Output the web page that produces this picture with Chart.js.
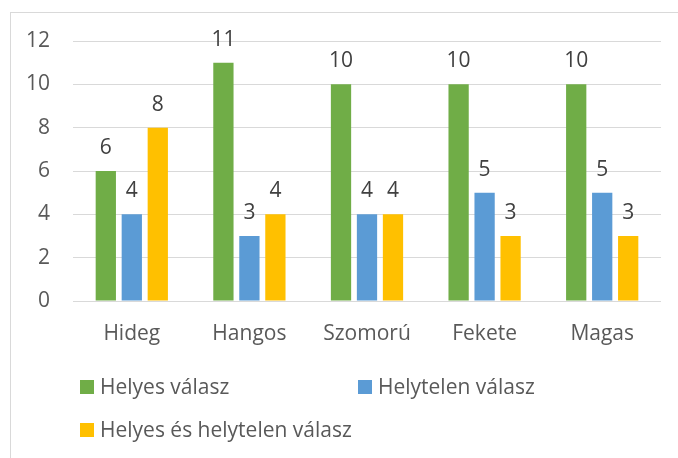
<!DOCTYPE html>
<html>
<head>
<meta charset="utf-8">
<script src="https://cdn.jsdelivr.net/npm/chart.js@4"></script>
<style>
  html, body { margin: 0; padding: 0; background: #fff; }
  canvas { display: block; }
</style>
</head>
<body>
<canvas id="barChart" width="678" height="458"></canvas>
<script>
var categories = ['Hideg', 'Hangos', 'Szomorú', 'Fekete', 'Magas'];
var helyes = [6, 11, 10, 10, 10];
var helytelen = [4, 3, 4, 5, 5];
var vegyes = [8, 4, 4, 3, 3];
var yTicks = [0, 2, 4, 6, 8, 10, 12];

var FONT = '"Open Sans", sans-serif';

// frame round the chart, like the Excel chart area border
var framePlugin = {
    id: 'frame',
    beforeDraw: function (chart) {
        var c = chart.ctx;
        c.save();
        c.fillStyle = '#ffffff';
        c.fillRect(0, 0, chart.width, chart.height);
        c.strokeStyle = '#d9d9d9';
        c.lineWidth = 1;
        c.strokeRect(10.5, 12.5, 720, 500);
        c.restore();
    }
};

// value labels on top of the bars
var valueLabels = {
    id: 'valueLabels',
    afterDatasetsDraw: function (chart) {
        var c = chart.ctx;
        c.save();
        c.font = '21px ' + FONT;
        c.fillStyle = '#404040';
        c.textAlign = 'center';
        c.textBaseline = 'alphabetic';
        chart.data.datasets.forEach(function (ds, i) {
            chart.getDatasetMeta(i).data.forEach(function (bar, j) {
                c.fillText(ds.data[j], bar.x, bar.y - 17);
            });
        });
        c.restore();
    }
};

// two-column legend under the axis
var gridLegend = {
    id: 'gridLegend',
    afterDraw: function (chart) {
        var c = chart.ctx;
        var spots = [[80, 387], [358, 387], [80, 430]];
        c.save();
        c.font = '21px ' + FONT;
        c.textBaseline = 'middle';
        c.textAlign = 'left';
        chart.data.datasets.forEach(function (ds, i) {
            var p = spots[i];
            c.fillStyle = ds.backgroundColor;
            c.fillRect(p[0], p[1] - 7, 14, 14);
            c.fillStyle = '#595959';
            c.fillText(ds.label, p[0] + 20, p[1] + 1);
        });
        c.restore();
    }
};

var ctx = document.getElementById('barChart').getContext('2d');

var myChart = new Chart(ctx, {
    type: 'bar',
    data: {
        labels: categories,
        datasets: [{
            label: 'Helyes válasz',
            data: helyes,
            backgroundColor: '#70AD47'
        }, {
            label: 'Helytelen válasz',
            data: helytelen,
            backgroundColor: '#5B9BD5'
        }, {
            label: 'Helyes és helytelen válasz',
            data: vegyes,
            backgroundColor: '#FFC000'
        }]
    },
    options: {
        responsive: false,
        animation: false,
        devicePixelRatio: 1,
        layout: { padding: { top: 41, right: 17, left: 0, bottom: 0 } },
        datasets: {
            bar: { categoryPercentage: 0.663, barPercentage: 0.78 }
        },
        plugins: {
            legend: { display: false },
            tooltip: { enabled: false }
        },
        scales: {
            x: {
                grid: { display: false, drawTicks: false },
                border: { display: false },
                ticks: { color: '#595959', font: { family: FONT, size: 21 }, padding: 20 },
                afterFit: function (scale) { scale.height = 157; }
            },
            y: {
                min: 0,
                max: 12,
                afterBuildTicks: function (scale) {
                    scale.ticks = yTicks.map(function (v) { return { value: v }; });
                },
                grid: { color: '#d9d9d9', lineWidth: 1, drawTicks: false },
                border: { display: false },
                ticks: { color: '#595959', font: { family: FONT, size: 21 }, padding: 23 },
                afterFit: function (scale) { scale.width = 73; }
            }
        }
    },
    plugins: [framePlugin, valueLabels, gridLegend]
});
</script>
</body>
</html>
